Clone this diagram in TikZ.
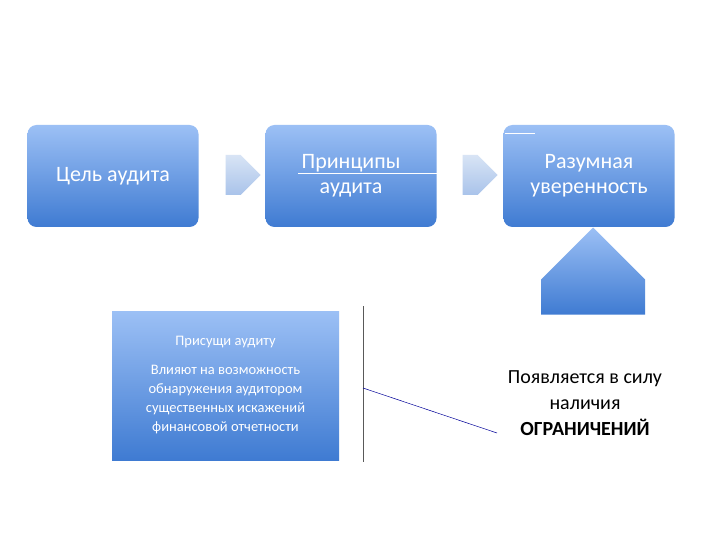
\documentclass[tikz,border=0pt]{standalone}
\usepackage{fontspec}
\setmainfont{Carlito}
\usetikzlibrary{shapes.arrows}
\definecolor{btop}{HTML}{9CC0F5}
\definecolor{bbot}{HTML}{3F7BD2}
\definecolor{atop}{HTML}{D8E4F5}
\definecolor{abot}{HTML}{A9C3EA}
\tikzset{
 box/.style={rounded corners=9pt, top color=btop, bottom color=bbot, draw=none, text=white, align=center, minimum width=171pt, minimum height=102pt, font=\fontsize{22}{25}\selectfont, inner sep=0pt},
 rarr/.style={single arrow, draw=none, top color=atop, bottom color=abot, minimum width=40pt, single arrow head extend=0pt, minimum height=35pt, inner sep=0pt, shape border uses incircle},
 thin/.style={draw=white, line width=0.6pt}
}
\begin{document}
\begin{tikzpicture}[x=1pt,y=-1pt]
\useasboundingbox[fill=white] (0,0) rectangle (720,540);
\node[box] (b1) at (113,176) {Цель аудита};
\node[box] (b2) at (351,176) {Принципы\\аудита};
\node[box] (b3) at (589,176) {Разумная\\уверенность};
\node[rarr] (a1) at (233,175) {};
\node[rarr] (a2) at (470,175) {};
\draw[thin] (298,173) -- (440,173);
\draw[thin] (505,133) -- (535,133);
\node[single arrow, shape border rotate=90, draw=none, top color=btop, bottom color=bbot, minimum width=104pt, single arrow head extend=0pt, minimum height=87pt, inner sep=0pt] (up) at (593,297) {};
\node[draw=none, top color=btop, bottom color=bbot, text=white, minimum width=227pt, minimum height=149pt, align=center, inner sep=0pt, font=\fontsize{14.5}{19}\selectfont] (lb) at (225.5,385.5) {Присущи аудиту\\[10pt]Влияют на возможность\\обнаружения аудитором\\существенных искажений\\финансовой отчетности};
\coordinate (v1) at (363,306);
\coordinate (v2) at (363,462);
\coordinate (vm) at (363,388);
\draw[gray!70!black, line width=0.6pt] (v1) -- (v2);
\node[align=center, font=\fontsize{20}{26}\selectfont] (rt) at (585,403) {Появляется в силу\\наличия\\\textbf{ОГРАНИЧЕНИЙ}};
\coordinate (le) at (497,433);
\draw[blue!60!black, line width=0.5pt] (vm) -- (le);
\end{tikzpicture}
\end{document}
